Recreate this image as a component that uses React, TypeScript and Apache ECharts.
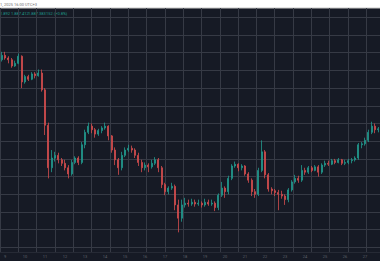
import React, { useEffect, useRef } from "react";
import * as echarts from "echarts";

// Day tick labels along the time axis
const days = ["9", "10", "11", "12", "13", "14", "15", "16", "17", "18", "19", "20", "21", "22", "23", "24", "25", "26", "27"];
const hours = ["00:00", "04:00", "08:00", "12:00", "16:00", "20:00"];

// 4-hour candles (first candle is day 8, 20:00)
const opens = [1912, 1917, 1914, 1912, 1905, 1908, 1916, 1887, 1893, 1890, 1896, 1894, 1897, 1878, 1838, 1790, 1801, 1804, 1799, 1795, 1790, 1783, 1796, 1801, 1796, 1816, 1830, 1837, 1833, 1828, 1832, 1835, 1837, 1826, 1810, 1799, 1790, 1804, 1810, 1812, 1810, 1804, 1796, 1790, 1793, 1791, 1795, 1799, 1790, 1771, 1763, 1767, 1769, 1748, 1733, 1748, 1750, 1749, 1751, 1749, 1750, 1748, 1751, 1749, 1750, 1745, 1759, 1767, 1763, 1778, 1792, 1794, 1790, 1792, 1783, 1776, 1763, 1760, 1787, 1808, 1782, 1766, 1764, 1762, 1760, 1758, 1754, 1765, 1774, 1778, 1776, 1787, 1785, 1790, 1787, 1791, 1785, 1793, 1795, 1794, 1798, 1796, 1799, 1795, 1796, 1798, 1799, 1801, 1816, 1817, 1821, 1830, 1837, 1833];
const closes = [1917, 1914, 1912, 1905, 1908, 1916, 1887, 1893, 1890, 1896, 1894, 1897, 1878, 1838, 1790, 1801, 1804, 1799, 1795, 1790, 1783, 1796, 1801, 1796, 1816, 1830, 1837, 1833, 1828, 1832, 1835, 1837, 1826, 1810, 1799, 1790, 1804, 1810, 1812, 1810, 1804, 1796, 1790, 1793, 1791, 1795, 1799, 1790, 1771, 1763, 1767, 1769, 1748, 1733, 1748, 1750, 1749, 1751, 1749, 1750, 1748, 1751, 1749, 1750, 1745, 1759, 1767, 1763, 1778, 1792, 1794, 1790, 1792, 1783, 1776, 1763, 1760, 1787, 1808, 1782, 1766, 1764, 1762, 1760, 1758, 1754, 1765, 1774, 1778, 1776, 1787, 1785, 1790, 1787, 1791, 1785, 1793, 1795, 1794, 1798, 1796, 1799, 1795, 1796, 1798, 1799, 1801, 1816, 1817, 1821, 1830, 1837, 1833, 1834];
const highs = [1921, 1921, 1916, 1914, 1911, 1919, 1917, 1895, 1895, 1898, 1898, 1901, 1901, 1880, 1841, 1810, 1808, 1807, 1801, 1799, 1793, 1799, 1803, 1803, 1819, 1833, 1841, 1840, 1835, 1834, 1837, 1841, 1838, 1827, 1813, 1801, 1808, 1813, 1816, 1815, 1812, 1807, 1799, 1796, 1795, 1799, 1802, 1801, 1792, 1773, 1769, 1773, 1771, 1754, 1754, 1756, 1754, 1755, 1754, 1754, 1752, 1755, 1754, 1754, 1752, 1761, 1774, 1769, 1781, 1794, 1797, 1795, 1794, 1793, 1785, 1778, 1766, 1790, 1821, 1810, 1784, 1768, 1766, 1765, 1764, 1760, 1767, 1776, 1782, 1781, 1793, 1790, 1792, 1792, 1793, 1793, 1795, 1798, 1798, 1800, 1800, 1801, 1800, 1799, 1800, 1801, 1803, 1818, 1819, 1824, 1833, 1842, 1840, 1836];
const lows = [1910, 1912, 1908, 1903, 1904, 1907, 1880, 1885, 1888, 1889, 1891, 1893, 1876, 1827, 1778, 1785, 1797, 1795, 1792, 1787, 1778, 1781, 1794, 1793, 1794, 1812, 1828, 1829, 1824, 1826, 1829, 1833, 1821, 1807, 1793, 1782, 1787, 1802, 1808, 1807, 1801, 1792, 1785, 1787, 1785, 1789, 1793, 1785, 1767, 1759, 1760, 1765, 1742, 1717, 1729, 1745, 1746, 1747, 1746, 1747, 1745, 1746, 1747, 1747, 1741, 1742, 1757, 1756, 1760, 1776, 1790, 1786, 1787, 1781, 1773, 1758, 1756, 1758, 1785, 1778, 1763, 1760, 1758, 1742, 1755, 1748, 1751, 1763, 1772, 1773, 1774, 1782, 1783, 1785, 1786, 1780, 1783, 1791, 1792, 1793, 1794, 1795, 1793, 1793, 1794, 1795, 1797, 1799, 1812, 1815, 1819, 1828, 1829, 1830];

const headerDate = "1, 2025 16:00 UTC+3";
const legendValues = ["1.892", "1.887.412", "1.887.383", "152 (+0.8%)"];

export default function App() {
  const ref = useRef<HTMLDivElement>(null);
  useEffect(() => {
    document.body.style.margin = "0";
    const chart = echarts.init(ref.current!, null, { renderer: "svg" });
    const categories = opens.map((_, i) =>
      i === 0 ? "8 20:00" : `${days[Math.floor((i - 1) / 6)]} ${hours[(i - 1) % 6]}`
    );
    const data = opens.map((o, i) => [o, closes[i], lows[i], highs[i]]);
    const legendX = [0, 11, 28, 46];
    chart.setOption({
      animation: false,
      backgroundColor: "transparent",
      grid: [
        { left: 0, right: 0, top: 17.3, bottom: 32.6 },
        { left: -15, right: -20, top: 8, bottom: 28 },
      ],
      xAxis: [
        {
          type: "category",
          gridIndex: 0,
          data: categories,
          boundaryGap: true,
          axisLine: { show: false },
          axisTick: { show: false },
          splitLine: { show: false },
          axisLabel: {
            interval: (idx: number, val: string) => val.endsWith(" 00:00"),
            formatter: (val: string) => val.split(" ")[0],
            color: "#5d606b",
            fontSize: 4,
            fontFamily: "Roboto, sans-serif",
            margin: 7,
          },
        },
        {
          type: "value",
          gridIndex: 1,
          min: 0,
          max: 415,
          interval: 20,
          axisLine: { show: false },
          axisTick: { show: false },
          axisLabel: { show: false },
          splitLine: { show: true, lineStyle: { color: "#363a45", width: 1 } },
        },
      ],
      yAxis: [
        {
          type: "value",
          gridIndex: 0,
          min: 1700,
          max: 1960,
          interval: 20,
          axisLine: { show: false },
          axisTick: { show: false },
          axisLabel: { show: false },
          splitLine: { show: true, lineStyle: { color: "#363a45", width: 1 } },
        },
        { type: "value", gridIndex: 1, show: false, min: 0, max: 1 },
      ],
      graphic: [
        { type: "line", shape: { x1: 0, y1: 252.5, x2: 380, y2: 252.5 }, style: { stroke: "#262a35", lineWidth: 1 } },
        { type: "line", shape: { x1: 0, y1: 8, x2: 380, y2: 8 }, style: { stroke: "#c9c9c9", lineWidth: 1 } },
        {
          type: "text",
          x: 0,
          y: 2,
          style: { text: headerDate, fill: "#707070", fontSize: 4, fontFamily: "Roboto, sans-serif" },
        },
        ...legendValues.map((t, i) => ({
          type: "text",
          x: legendX[i],
          y: 11,
          style: { text: t, fill: "#1f9c8c", fontSize: 4, fontFamily: "Roboto, sans-serif" },
        })),
      ],
      series: [
        {
          type: "candlestick",
          xAxisIndex: 0,
          yAxisIndex: 0,
          data,
          barWidth: "40%",
          itemStyle: {
            color: "#1f8f85",
            color0: "#c94a4b",
            borderColor: "#22998e",
            borderColor0: "#d34d4e",
            borderWidth: 0.8,
          },
        },
      ],
    });
    return () => chart.dispose();
  }, []);
  return (
    <div style={{ position: "fixed", left: 0, top: 0, width: 380, height: 280, background: "#ffffff" }}>
      <div style={{ position: "absolute", left: 0, top: 8, width: 380, height: 253, background: "#161a25" }} />
      <div ref={ref} style={{ position: "absolute", left: 0, top: 0, width: 380, height: 280 }} />
    </div>
  );
}
